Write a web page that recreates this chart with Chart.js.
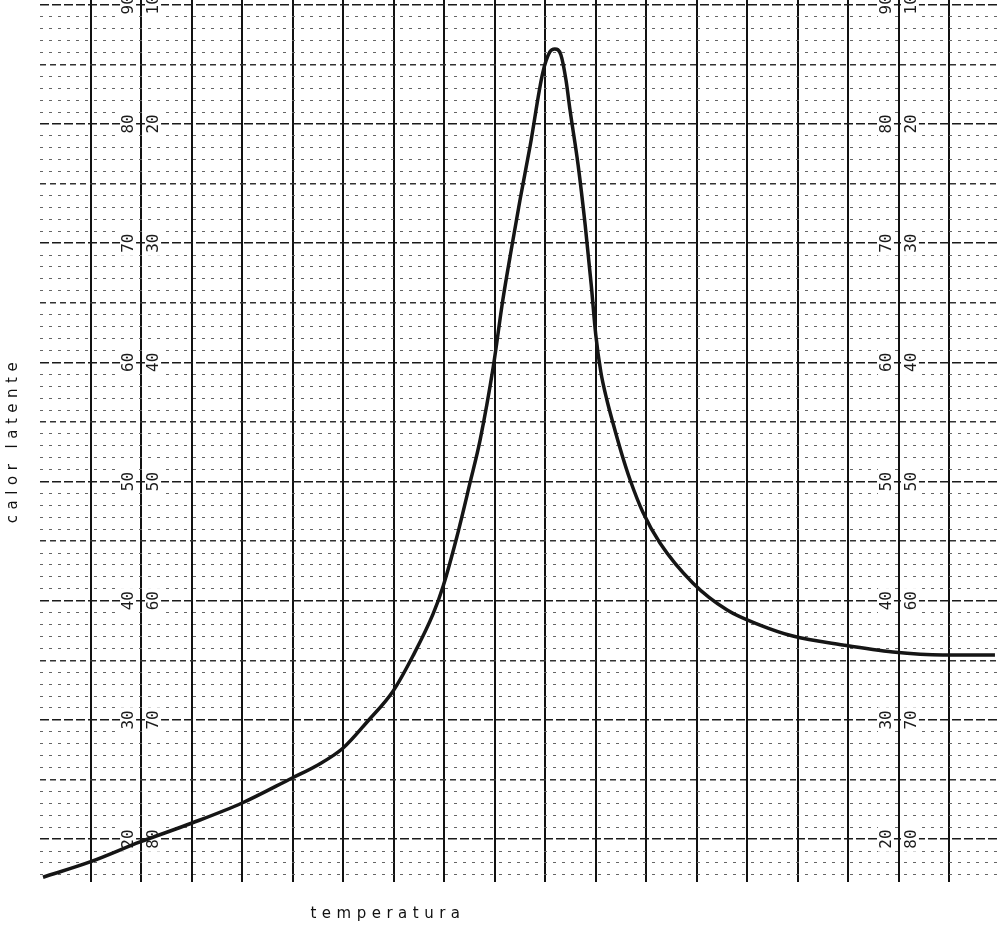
<!DOCTYPE html>
<html>
<head>
<meta charset="utf-8">
<title>calor latente</title>
<script src="https://cdn.jsdelivr.net/npm/chart.js@4.4.1/dist/chart.umd.min.js"></script>
<style>
  html, body { margin: 0; padding: 0; background: #fff; }
  #wrap { width: 1000px; height: 931px; }
</style>
</head>
<body>
<div id="wrap"><canvas id="chart" width="1000" height="931"></canvas></div>
<script>
// temperatura in grid columns, calor latente in the left-hand paper scale
const temperatura = [0.06, 0.99, 1.98, 3.01, 4.0, 4.99, 5.5, 6.0, 6.49, 6.99, 7.38, 7.78, 7.98, 8.25, 8.51, 8.71,
  8.97, 9.16, 9.34, 9.5, 9.7, 9.95, 10.09, 10.19, 10.31, 10.41, 10.49, 10.65, 10.79, 10.91, 11.0,
  11.1, 11.22, 11.34, 11.52, 11.68, 11.93, 12.27, 12.92, 13.6, 14.25, 14.9, 15.89, 16.88, 17.87, 18.9];
const calor = [16.8, 18.08, 19.76, 21.35, 23.03, 25.13, 26.22, 27.64, 29.91, 32.43, 35.36, 38.89, 41.24, 45.35, 49.88, 53.48,
  59.61, 65.23, 69.76, 73.62, 78.15, 84.28, 86.04, 86.29, 85.79, 83.69, 81.17, 76.56, 71.52, 66.49, 62.29,
  59.19, 56.84, 54.91, 52.23, 50.13, 47.44, 44.84, 41.49, 39.22, 37.96, 37.04, 36.29, 35.7, 35.45, 35.45];

// numbers printed on the recorder paper, either side of two column lines
const scaleLeft = [90, 80, 70, 60, 50, 40, 30, 20];
const scaleRight = [10, 20, 30, 40, 50, 60, 70, 80];
const scaleColumns = [2, 17];

// paper rulings: one row per unit
const yTicks = [];
for (let v = 17; v <= 90; v++) yTicks.push(v);

const paperPlugin = {
  id: 'paper',
  beforeDatasetsDraw(chart) {
    const { ctx, scales: { x, y } } = chart;
    ctx.save();
    ctx.font = '16px "DejaVu Sans Mono"';
    ctx.textAlign = 'center';
    ctx.textBaseline = 'middle';
    const label = (txt, px, py) => {
      ctx.save();
      ctx.translate(px, py);
      ctx.rotate(-Math.PI / 2);
      const w = ctx.measureText(txt).width;
      ctx.fillStyle = '#fff';
      ctx.fillRect(-w / 2 - 3, -8, w + 6, 16);
      ctx.fillStyle = '#1a1a1a';
      ctx.fillText(txt, 0, 1);
      ctx.restore();
    };
    scaleColumns.forEach(col => {
      const cx = x.getPixelForValue(col);
      scaleLeft.forEach((v, i) => {
        const py = y.getPixelForValue(v);
        label(String(v), cx - 13, py);
        label(String(scaleRight[i]), cx + 12, py);
      });
    });
    ctx.restore();
  },
  afterDraw(chart) {
    const { ctx, chartArea } = chart;
    ctx.save();
    ctx.fillStyle = '#111';
    ctx.font = '15px "DejaVu Sans"';
    ctx.letterSpacing = '5.5px';
    ctx.textAlign = 'center';
    ctx.textBaseline = 'middle';
    ctx.fillText('temperatura', chartArea.left + 348, chartArea.bottom + 32);
    ctx.translate(13, 440);
    ctx.rotate(-Math.PI / 2);
    ctx.fillText('calor latente', 0, 0);
    ctx.restore();
  }
};

new Chart(document.getElementById('chart'), {
  type: 'line',
  data: {
    datasets: [{
      label: 'calor latente',
      data: temperatura.map((t, i) => ({ x: t, y: calor[i] })),
      borderColor: '#151515',
      borderWidth: 3.5,
      pointRadius: 0,
      cubicInterpolationMode: 'monotone',
      fill: false
    }]
  },
  options: {
    responsive: false,
    animation: false,
    layout: { padding: 0 },
    plugins: {
      legend: { display: false },
      tooltip: { enabled: false }
    },
    scales: {
      x: {
        type: 'linear',
        min: 0,
        max: 19,
        afterFit: s => { s.height = 49; },
        ticks: { display: false, stepSize: 1 },
        border: { display: false },
        grid: {
          drawTicks: false,
          color: c => (c.tick.value === 0 || c.tick.value === 19) ? 'rgba(0,0,0,0)' : '#111',
          lineWidth: 2
        }
      },
      y: {
        min: 16.4,
        max: 90.4,
        afterFit: s => { s.width = 40; },
        afterBuildTicks: s => { s.ticks = yTicks.map(v => ({ value: v })); },
        ticks: { display: false },
        border: {
          display: false,
          dash: c => c.tick.value % 10 === 0 ? [9, 3] : (c.tick.value % 5 === 0 ? [6, 4] : [3, 6])
        },
        grid: {
          drawTicks: false,
          color: c => c.tick.value % 10 === 0 ? '#1a1a1a' : (c.tick.value % 5 === 0 ? '#333' : '#666'),
          lineWidth: c => c.tick.value % 10 === 0 ? 1.6 : (c.tick.value % 5 === 0 ? 1.4 : 1)
        }
      }
    }
  },
  plugins: [paperPlugin]
});
</script>
</body>
</html>
